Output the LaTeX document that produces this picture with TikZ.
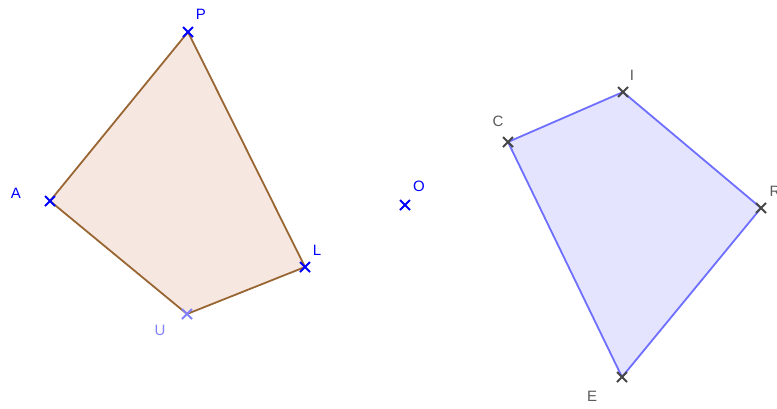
\documentclass[tikz,border=0pt]{standalone}
\usepackage{fontspec}
\setmainfont{Liberation Sans}
\usetikzlibrary{calc}
\begin{document}
\begin{tikzpicture}[x=1pt,y=-1pt,
  lbl/.style={inner sep=0pt,font=\fontsize{15}{15}\selectfont},
  xmark/.style={line width=2.1pt}]
\definecolor{brownline}{RGB}{153,102,51}
\definecolor{pinkfill}{RGB}{246,232,224}
\definecolor{blueline}{RGB}{110,110,255}
\definecolor{lavfill}{RGB}{228,228,255}
\definecolor{ptblue}{RGB}{0,0,255}
\definecolor{ptlight}{RGB}{130,130,255}
\definecolor{ptgray}{RGB}{70,70,70}
\definecolor{lblgray}{RGB}{90,90,90}
\useasboundingbox (0,0) rectangle (777,408);
\fill[white] (0,0) rectangle (777,408);
\coordinate (P) at (188,32);
\coordinate (A) at (50,201);
\coordinate (U) at (187,314);
\coordinate (L) at (305,267);
\coordinate (O) at (405,205);
\coordinate (C) at (508,142);
\coordinate (I) at (623,92);
\coordinate (R) at (761,208);
\coordinate (E) at (622,377);
\draw[brownline,fill=pinkfill,line width=1.8pt,line join=round] (P) -- (L) -- (U) -- (A) -- cycle;
\draw[blueline,fill=lavfill,line width=1.8pt,line join=round] (C) -- (I) -- (R) -- (E) -- cycle;
\foreach \p/\c in {P/ptblue,A/ptblue,L/ptblue,O/ptblue,U/ptlight,C/ptgray,I/ptgray,R/ptgray,E/ptgray}{
  \draw[xmark,\c] ($(\p)+(-5,-5)$) -- ($(\p)+(5,5)$) ($(\p)+(-5,5)$) -- ($(\p)+(5,-5)$);
}
\node[lbl,text=ptblue] (lP) at (201,14) {P};
\node[lbl,text=ptblue] (lA) at (16,193) {A};
\node[lbl,text=ptlight] (lU) at (160,330) {U};
\node[lbl,text=ptblue] (lL) at (317,250) {L};
\node[lbl,text=ptblue] (lO) at (419,186) {O};
\node[lbl,text=lblgray] (lC) at (498,121) {C};
\node[lbl,text=lblgray] (lI) at (632,75) {I};
\node[lbl,text=lblgray] (lR) at (775,191) {R};
\node[lbl,text=lblgray] (lE) at (592,396) {E};
\end{tikzpicture}
\end{document}
